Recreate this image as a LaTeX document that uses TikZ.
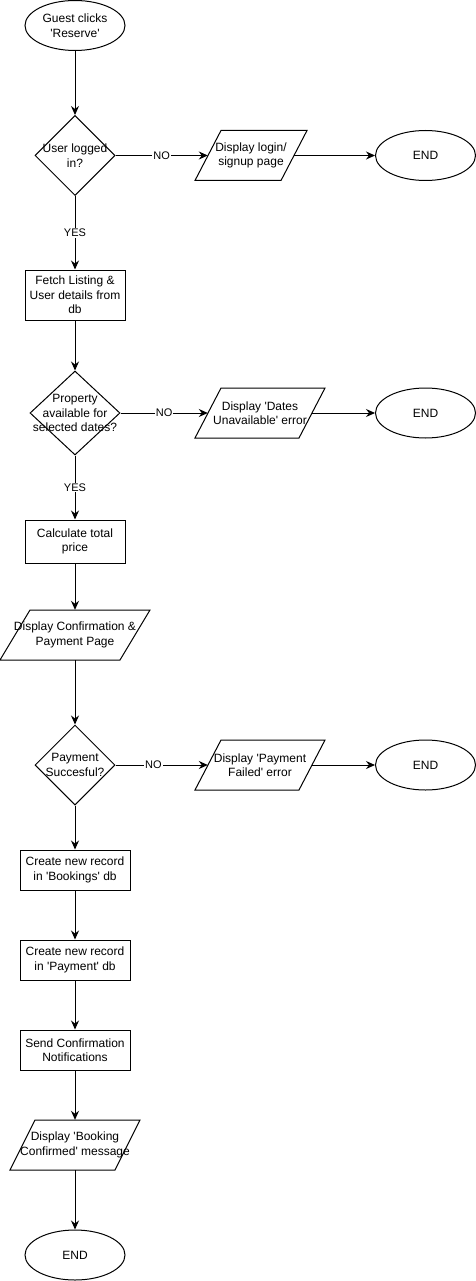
\documentclass[tikz,border=0pt]{standalone}
\usepackage{fontspec}
\setmainfont{Liberation Sans}
\usetikzlibrary{shapes.geometric,arrows.meta,calc}

% straight single quote
\newcommand\sq{\textquotesingle}

% slanted input/output frame drawn around a node centre:
% #1 node, #2 half width at mid height, #3 half slant, #4 half height
\newcommand\ioframe[4]{%
  \draw[outline] ($(#1.center)+(-#2+#3,-#4)$) -- ($(#1.center)+(#2+#3,-#4)$)
    -- ($(#1.center)+(#2-#3,#4)$) -- ($(#1.center)+(-#2-#3,#4)$) -- cycle;}

\begin{document}
\begin{tikzpicture}[x=1pt,y=-1pt,
  every node/.style={font=\fontsize{12}{14.5}\selectfont},
  outline/.style={draw, line width=1pt},
  base/.style={outline, inner sep=0pt, align=center},
  term/.style={base, ellipse, minimum width=100pt, minimum height=50pt},
  proc/.style={base, rectangle, minimum width=#1},
  decide/.style={outline, diamond, inner sep=0pt},
  iobox/.style={inner sep=0pt, align=center, minimum width=#1, minimum height=50pt},
  txt/.style={inner sep=0pt, align=center},
  arr/.style={line width=1pt, -{Stealth[length=9pt,width=8pt,inset=3pt]}},
  lbl/.style={fill=white, inner sep=1pt, font=\fontsize{11}{13}\selectfont}]

\useasboundingbox (0,0) rectangle (476,1281);

% main column
\node[term] (start) at (75,25.5) {Guest clicks\\\sq Reserve\sq};

\node[decide, minimum width=80pt, minimum height=80pt] (d1) at (75,155.5) {};
\node[txt] (d1t) at (d1) {User logged\\in?};

\node[proc=100pt, minimum height=50pt] (r1) at (75,295) {Fetch Listing \&\\User details from\\db};

\node[decide, minimum width=90pt, minimum height=84pt] (d2) at (75,413) {};
\node[txt] (d2t) at (d2) {Property\\available for\\selected dates?};

\node[proc=100pt, minimum height=43pt] (r2) at (75,541.5) {Calculate total\\price};

\node[iobox=120pt] (p3) at (75,635) {Display Confirmation \&\\Payment Page};
\ioframe{p3}{60}{15}{25}

\node[decide, minimum width=80pt, minimum height=80pt] (d3) at (75,765) {};
\node[txt] (d3t) at (d3) {Payment\\Succesful?};

\node[proc=110pt, minimum height=40pt] (r3) at (75,870) {Create new record\\in \sq Bookings\sq{} db};
\node[proc=110pt, minimum height=40pt] (r4) at (75,960) {Create new record\\in \sq Payment\sq{} db};
\node[proc=110pt, minimum height=40pt] (r5) at (75,1050) {Send Confirmation\\Notifications};

\node[iobox=105pt] (p5) at (75,1145) {Display \sq Booking\\Confirmed\sq{} message};
\ioframe{p5}{52.5}{12.5}{25}

\node[term] (e4) at (75,1255) {END};

% side branches
\node[iobox=86pt] (p1) at (251,155.5) {Display login/\\signup page};
\ioframe{p1}{43}{13}{25}
\node[term] (e1) at (425.5,155.5) {END};

\node[iobox=104pt] (p2) at (260,413) {Display \sq Dates\\Unavailable\sq{} error};
\ioframe{p2}{52}{13}{25}
\node[term] (e2) at (425.5,413) {END};

\node[iobox=104pt] (p4) at (260,765) {Display \sq Payment\\Failed\sq{} error};
\ioframe{p4}{52}{13}{25}
\node[term] (e3) at (425.5,765) {END};

% connectors
\draw[arr] (start) -- (d1);
\draw[arr] (d1) -- node[lbl] {NO} (p1);
\draw[arr] (p1) -- (e1);
\draw[arr] (d1) -- node[lbl] {YES} (r1);
\draw[arr] (r1) -- (d2);
\draw[arr] (d2) -- node[lbl] {NO} (p2);
\draw[arr] (p2) -- (e2);
\draw[arr] (d2) -- node[lbl] {YES} (r2);
\draw[arr] (r2) -- (p3);
\draw[arr] (p3) -- (d3);
\draw[arr] (d3) -- node[lbl, pos=0.41] {NO} (p4);
\draw[arr] (p4) -- (e3);
\draw[arr] (d3) -- (r3);
\draw[arr] (r3) -- (r4);
\draw[arr] (r4) -- (r5);
\draw[arr] (r5) -- (p5);
\draw[arr] (p5) -- (e4);
\end{tikzpicture}
\end{document}
